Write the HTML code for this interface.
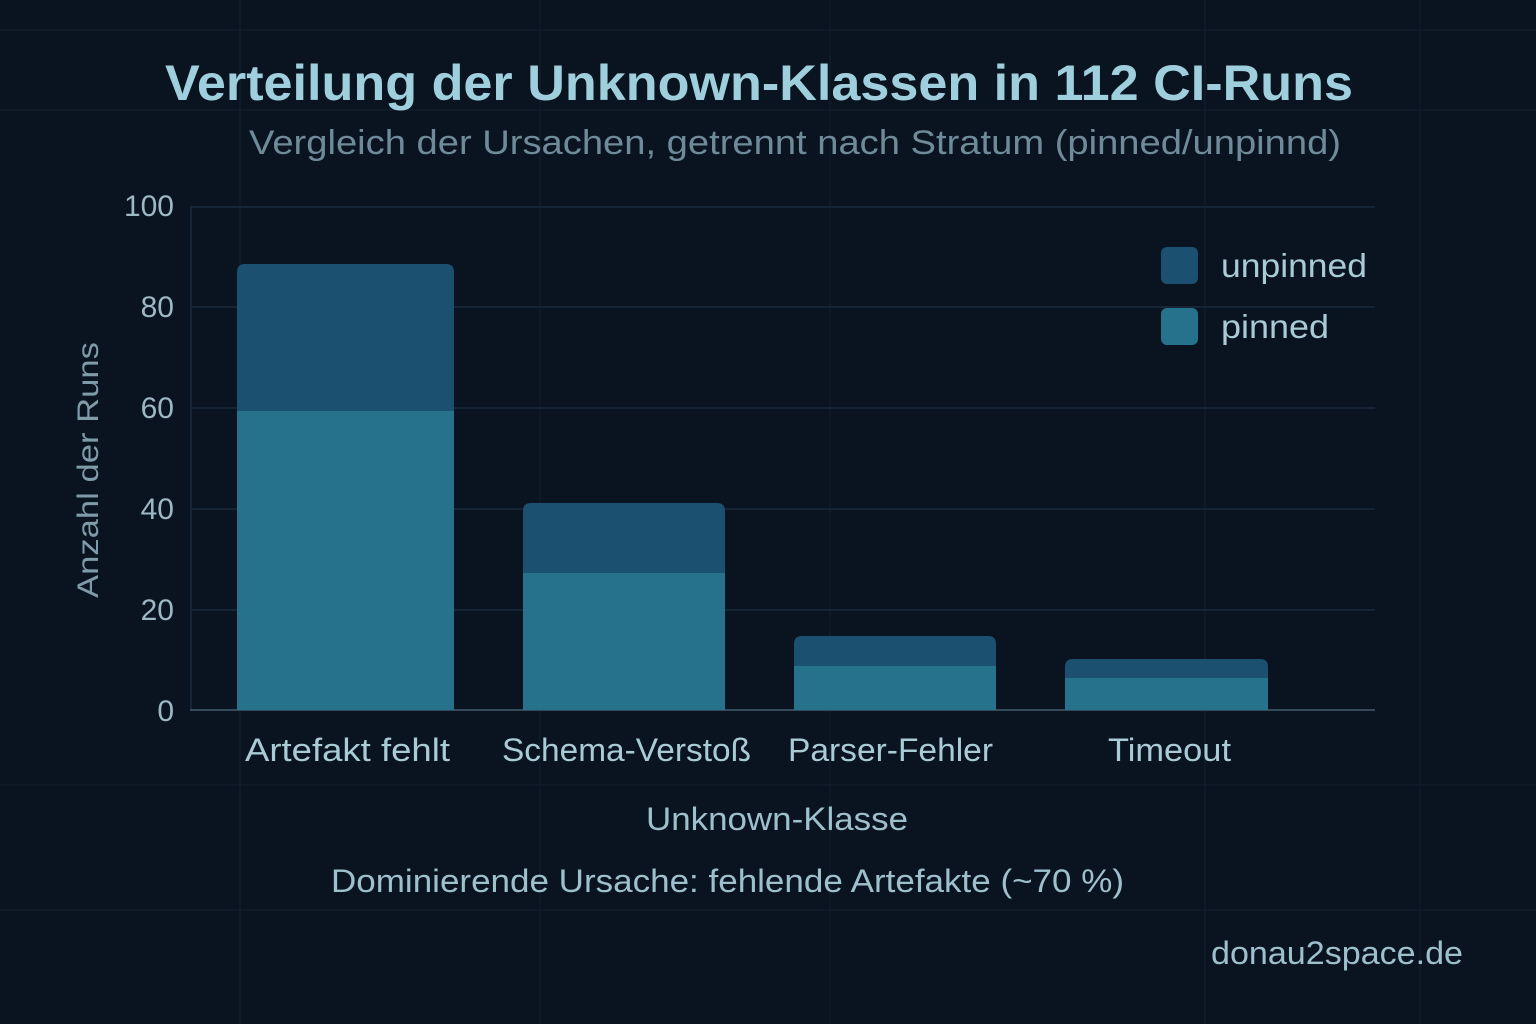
<!DOCTYPE html>
<html><head><meta charset="utf-8"><style>
html,body{margin:0;padding:0;background:#0a1420;}
svg{display:block;}
text{font-family:"Liberation Sans","DejaVu Sans",sans-serif;}
</style></head><body>
<svg width="1536" height="1024" viewBox="0 0 1536 1024" xmlns="http://www.w3.org/2000/svg">
<rect width="1536" height="1024" fill="#0a1420"/>
<g stroke="#101c2a" stroke-width="1.5">
<line x1="0" y1="30" x2="1536" y2="30"/><line x1="0" y1="110" x2="1536" y2="110"/>
<line x1="0" y1="785" x2="1536" y2="785"/><line x1="0" y1="910" x2="1536" y2="910"/>
<line x1="240" y1="0" x2="240" y2="1024"/><line x1="540" y1="0" x2="540" y2="1024"/>
<line x1="830" y1="0" x2="830" y2="1024"/><line x1="1205" y1="0" x2="1205" y2="1024"/>
<line x1="1420" y1="0" x2="1420" y2="1024"/>
</g>
<g stroke="#152535" stroke-width="2">
<line x1="190" y1="207" x2="1375" y2="207"/>
<line x1="190" y1="307" x2="1375" y2="307"/>
<line x1="190" y1="408" x2="1375" y2="408"/>
<line x1="190" y1="509" x2="1375" y2="509"/>
<line x1="190" y1="610" x2="1375" y2="610"/>
<line x1="191" y1="207" x2="191" y2="710"/>
</g>
<line x1="190" y1="710" x2="1375" y2="710" stroke="#34495a" stroke-width="2"/>
<g>
<path d="M237 710 V272 q0 -8 8 -8 H446 q8 0 8 8 V710 Z" fill="#1b5070"/>
<rect x="237" y="411" width="217" height="299" fill="#26728c"/>
<path d="M523 710 V511 q0 -8 8 -8 H717 q8 0 8 8 V710 Z" fill="#1b5070"/>
<rect x="523" y="573" width="202" height="137" fill="#26728c"/>
<path d="M794 710 V644 q0 -8 8 -8 H988 q8 0 8 8 V710 Z" fill="#1b5070"/>
<rect x="794" y="666" width="202" height="44" fill="#26728c"/>
<path d="M1065 710 V667 q0 -8 8 -8 H1260 q8 0 8 8 V710 Z" fill="#1b5070"/>
<rect x="1065" y="678" width="203" height="32" fill="#26728c"/>
</g>
<rect x="1161" y="247" width="37" height="37" rx="6" fill="#1b5070"/>
<rect x="1161" y="308" width="37" height="37" rx="6" fill="#26728c"/>
<g fill="#a9cbd6" font-size="33">
<text x="1221" y="277" textLength="146" lengthAdjust="spacingAndGlyphs">unpinned</text>
<text x="1221" y="338" textLength="108" lengthAdjust="spacingAndGlyphs">pinned</text>
</g>
<text x="165" y="100" font-size="50" font-weight="bold" fill="#9fcfdc" textLength="1188" lengthAdjust="spacingAndGlyphs">Verteilung der Unknown-Klassen in 112 CI-Runs</text>
<text x="249" y="154" font-size="34" fill="#6f8a99" textLength="1092" lengthAdjust="spacingAndGlyphs">Vergleich der Ursachen, getrennt nach Stratum (pinned/unpinnd)</text>
<g fill="#9db8c4" font-size="30" text-anchor="end">
<text x="174" y="216">100</text><text x="174" y="317">80</text><text x="174" y="418">60</text>
<text x="174" y="519">40</text><text x="174" y="620">20</text><text x="174" y="721">0</text>
</g>
<text transform="translate(98,598) rotate(-90)" font-size="30" fill="#7f9aa8" textLength="256" lengthAdjust="spacingAndGlyphs">Anzahl der Runs</text>
<g fill="#a9cbd6" font-size="32">
<text x="245" y="761" textLength="205" lengthAdjust="spacingAndGlyphs">Artefakt fehlt</text>
<text x="502" y="761" textLength="249" lengthAdjust="spacingAndGlyphs">Schema-Verstoß</text>
<text x="788" y="761" textLength="205" lengthAdjust="spacingAndGlyphs">Parser-Fehler</text>
<text x="1108" y="761" textLength="123" lengthAdjust="spacingAndGlyphs">Timeout</text>
</g>
<text x="646" y="830" font-size="32" fill="#9dc0cc" textLength="262" lengthAdjust="spacingAndGlyphs">Unknown-Klasse</text>
<text x="331" y="892" font-size="32" fill="#9dc0cc" textLength="793" lengthAdjust="spacingAndGlyphs">Dominierende Ursache: fehlende Artefakte (~70 %)</text>
<text x="1211" y="964" font-size="32" fill="#9dc0cc" textLength="252" lengthAdjust="spacingAndGlyphs">donau2space.de</text>
</svg>
</body></html>
